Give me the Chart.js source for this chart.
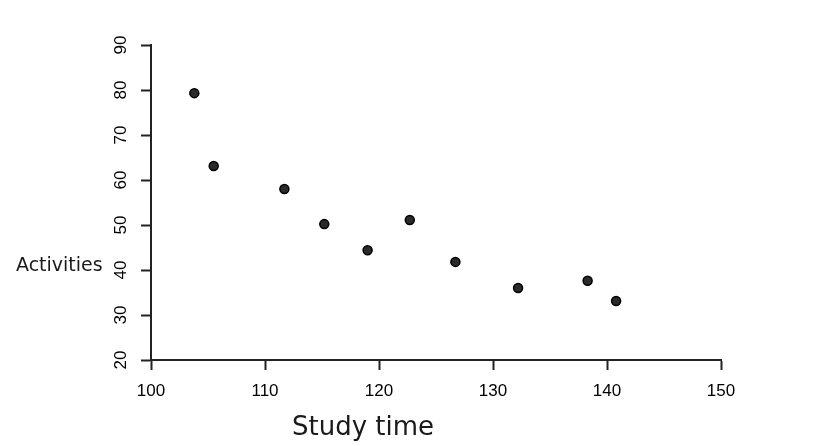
<!DOCTYPE html>
<html>
<head>
<meta charset="utf-8">
<script src="https://cdn.jsdelivr.net/npm/chart.js@4.4.1/dist/chart.umd.min.js"></script>
<style>
  html, body { margin: 0; padding: 0; background: #fff; }
  #wrap { width: 819px; height: 446px; position: relative; }
</style>
</head>
<body>
<div id="wrap"><canvas id="grafico"></canvas></div>
<script>
  // datos
  const studyTime = [103.8, 105.5, 111.7, 115.2, 119.0, 122.7, 126.7, 132.2, 138.3, 140.8];
  const activities = [79.3, 63.1, 58.0, 50.2, 44.4, 51.1, 41.8, 36.0, 37.6, 33.1];
  const xTicks = [100, 110, 120, 130, 140, 150];
  const yTicks = [20, 30, 40, 50, 60, 70, 80, 90];
  const xTitle = "Study time";
  const yTitle = "Activities";

  const puntos = studyTime.map((x, i) => ({ x: x, y: activities[i] }));

  // titulos de los ejes escritos a mano (horizontales)
  const titulosPlugin = {
    id: 'titulos',
    afterDraw(chart) {
      const ctx = chart.ctx;
      ctx.save();
      ctx.fillStyle = '#1a1a1a';
      ctx.textBaseline = 'middle';
      ctx.textAlign = 'left';
      ctx.font = '19px "DejaVu Sans"';
      ctx.fillText(yTitle, 16, 266);
      ctx.font = '26px "DejaVu Sans"';
      ctx.fillText(xTitle, 292, 428);
      ctx.restore();
    }
  };

  const ejeComun = {
    type: 'linear',
    grid: {
      display: true,
      drawOnChartArea: false,
      drawTicks: true,
      tickLength: 10,
      tickWidth: 2,
      tickColor: '#222'
    },
    border: { display: true, color: '#222', width: 2 }
  };

  new Chart(document.getElementById('grafico').getContext('2d'), {
    type: 'scatter',
    data: {
      datasets: [{
        label: 'Activities',
        data: puntos,
        pointStyle: 'circle',
        pointRadius: 4.5,
        pointHoverRadius: 4.5,
        backgroundColor: '#2a2a2a',
        borderColor: '#000',
        borderWidth: 1.5
      }]
    },
    options: {
      responsive: true,
      maintainAspectRatio: false,
      animation: false,
      layout: { padding: { left: 0, right: 98, top: 45, bottom: 0 } },
      plugins: {
        legend: { display: false },
        tooltip: { enabled: false }
      },
      scales: {
        x: {
          ...ejeComun,
          min: 100,
          max: 150,
          afterBuildTicks: s => { s.ticks = xTicks.map(v => ({ value: v })); },
          afterFit: s => { s.height = 86; },
          ticks: {
            padding: 11,
            color: '#000',
            font: { family: 'Liberation Sans', size: 17 }
          }
        },
        y: {
          ...ejeComun,
          min: 20,
          max: 90,
          afterBuildTicks: s => { s.ticks = yTicks.map(v => ({ value: v })); },
          afterFit: s => { s.width = 151; },
          ticks: {
            minRotation: 90,
            maxRotation: 90,
            crossAlign: 'center',
            padding: 10,
            color: '#000',
            font: { family: 'Liberation Sans', size: 17 }
          }
        }
      }
    },
    plugins: [titulosPlugin]
  });
</script>
</body>
</html>
